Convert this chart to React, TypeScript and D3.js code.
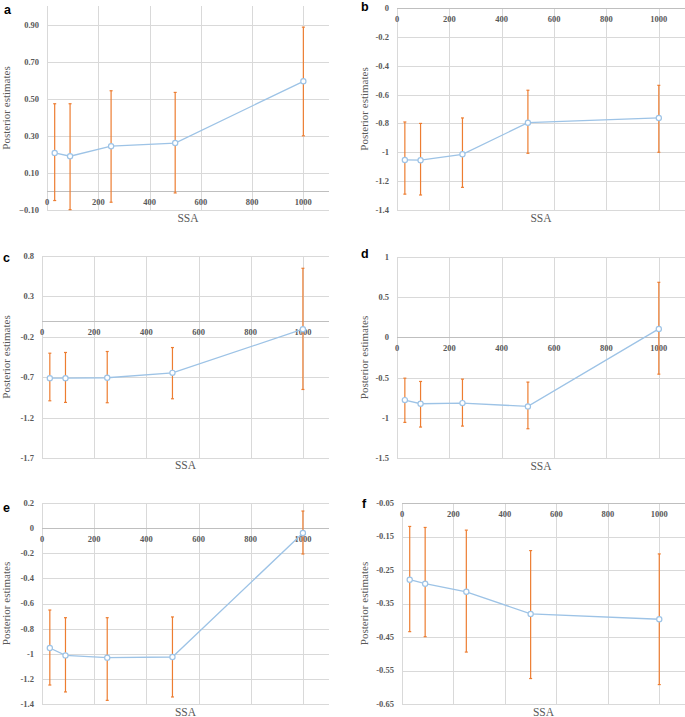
import React from 'react'
import * as d3 from 'd3'

// sample size (SSA) at which each estimate was made
const ssa = [30, 90, 250, 500, 1000]
const xTicks = [0, 200, 400, 600, 800, 1000]

// panel a
const estA = [0.208, 0.19, 0.244, 0.261, 0.594]
const upA = [0.473, 0.473, 0.543, 0.534, 0.886]
const loA = [-0.049, -0.098, -0.058, -0.008, 0.3]
const ticksA = [-0.1, 0.1, 0.3, 0.5, 0.7, 0.9]

// panel b
const estB = [-1.053, -1.055, -1.014, -0.795, -0.762]
const upB = [-0.79, -0.8, -0.762, -0.57, -0.536]
const loB = [-1.29, -1.296, -1.243, -1.007, -1.0]
const ticksB = [-1.4, -1.2, -1, -0.8, -0.6, -0.4, -0.2, 0]

// panel c
const estC = [-0.712, -0.712, -0.707, -0.646, -0.106]
const upC = [-0.403, -0.394, -0.382, -0.333, 0.648]
const loC = [-0.992, -1.012, -1.016, -0.967, -0.852]
const ticksC = [-1.7, -1.2, -0.7, -0.2, 0.3, 0.8]

// panel d
const estD = [-0.78, -0.825, -0.817, -0.858, 0.106]
const upD = [-0.507, -0.548, -0.519, -0.556, 0.685]
const loD = [-1.057, -1.115, -1.103, -1.136, -0.457]
const ticksD = [-1.5, -1, -0.5, 0, 0.5, 1]

// panel e
const estE = [-0.954, -1.013, -1.031, -1.026, -0.039]
const upE = [-0.652, -0.713, -0.713, -0.707, 0.136]
const loE = [-1.249, -1.304, -1.371, -1.344, -0.206]
const ticksE = [-1.4, -1.2, -1, -0.8, -0.6, -0.4, -0.2, 0, 0.2]

// panel f
const estF = [-0.279, -0.291, -0.315, -0.381, -0.397]
const upF = [-0.12, -0.123, -0.131, -0.192, -0.202]
const loF = [-0.434, -0.449, -0.495, -0.574, -0.592]
const ticksF = [-0.65, -0.55, -0.45, -0.35, -0.25, -0.15, -0.05]

const fmtGeneral = (v: number) => {
  const s = String(+v.toFixed(2))
  return s === '-0' ? '0' : s
}
const fmt2 = d3.format('.2f')

const panels = [
  { letter: 'a', est: estA, up: upA, lo: loA, ticks: ticksA, yDomain: [-0.1, 1.0], fmt: fmt2,
    box: { left: 47, right: 329, top: 6, bottom: 210 }, letterPos: [4, 14], yLabelX: 6, ssaY: 222 },
  { letter: 'b', est: estB, up: upB, lo: loB, ticks: ticksB, yDomain: [-1.4, 0], fmt: fmtGeneral,
    box: { left: 397, right: 685, top: 8, bottom: 210 }, letterPos: [361, 11], yLabelX: 364, ssaY: 222 },
  { letter: 'c', est: estC, up: upC, lo: loC, ticks: ticksC, yDomain: [-1.7, 0.8], fmt: fmtGeneral,
    box: { left: 42, right: 329, top: 256, bottom: 458 }, letterPos: [3, 262], yLabelX: 6, ssaY: 469 },
  { letter: 'd', est: estD, up: upD, lo: loD, ticks: ticksD, yDomain: [-1.5, 1], fmt: fmtGeneral,
    box: { left: 397, right: 685, top: 257, bottom: 458 }, letterPos: [361, 258], yLabelX: 364, ssaY: 470 },
  { letter: 'e', est: estE, up: upE, lo: loE, ticks: ticksE, yDomain: [-1.4, 0.2], fmt: fmtGeneral,
    box: { left: 42, right: 329, top: 503, bottom: 704 }, letterPos: [3, 512], yLabelX: 6, ssaY: 716 },
  { letter: 'f', est: estF, up: upF, lo: loF, ticks: ticksF, yDomain: [-0.65, -0.05], fmt: fmtGeneral,
    box: { left: 402, right: 685, top: 503, bottom: 704 }, letterPos: [362, 508], yLabelX: 364, ssaY: 716 },
]

const serif = "'Liberation Serif', 'Times New Roman', Times, serif"
const sans = "'Liberation Sans', Arial, Helvetica, sans-serif"
const gridColor = '#d9d9d9'
const textColor = '#595959'
const lineColor = '#9dc3e6'
const barColor = '#ed7d31'

const Panel = ({ p }: { p: (typeof panels)[number] }) => {
  const { left, right, top, bottom } = p.box
  const x = d3.scaleLinear().domain([0, 1100]).range([left, right])
  const y = d3.scaleLinear().domain(p.yDomain).range([bottom, top])
  const axisY = p.yDomain[1] <= 0 ? top : y(0)
  const pts = ssa.map((s, i) => [x(s), y(p.est[i])] as [number, number])
  const line = d3.line()(pts)

  return (
    <g>
      {p.ticks.map((t) => (
        <line key={'h' + t} x1={left} x2={right} y1={Math.round(y(t)) + 0.5} y2={Math.round(y(t)) + 0.5}
          stroke={gridColor} strokeWidth={1} />
      ))}
      {xTicks.map((t) => (
        <line key={'v' + t} x1={Math.round(x(t)) + 0.5} x2={Math.round(x(t)) + 0.5} y1={top} y2={bottom}
          stroke={gridColor} strokeWidth={1} />
      ))}
      <line x1={left} x2={right} y1={Math.round(axisY) + 0.5} y2={Math.round(axisY) + 0.5} stroke="#bfbfbf" strokeWidth={1} />

      {p.ticks.map((t) => (
        <text key={'yl' + t} x={left - 8} y={y(t)} dy="0.35em" textAnchor="end"
          style={{ fontFamily: serif }} fontWeight="bold" fontSize={8.5} fill={textColor}>
          {p.fmt(t)}
        </text>
      ))}
      {xTicks.map((t) => (
        <text key={'xl' + t} x={x(t)} y={axisY + 11} dy="0.35em" textAnchor="middle"
          style={{ fontFamily: serif }} fontWeight="bold" fontSize={8.5} fill={textColor}>
          {t}
        </text>
      ))}

      <path d={line ?? ''} fill="none" stroke={lineColor} strokeWidth={1.3} />

      {ssa.map((s, i) => (
        <g key={'e' + s} stroke={barColor} strokeWidth={1.2}>
          <line x1={x(s)} x2={x(s)} y1={y(p.up[i])} y2={y(p.lo[i])} />
          <line x1={x(s) - 1.5} x2={x(s) + 1.5} y1={y(p.up[i])} y2={y(p.up[i])} />
          <line x1={x(s) - 1.5} x2={x(s) + 1.5} y1={y(p.lo[i])} y2={y(p.lo[i])} />
        </g>
      ))}

      {pts.map(([cx, cy], i) => (
        <circle key={'m' + i} cx={cx} cy={cy} r={2.6} fill="#fff" stroke={lineColor} strokeWidth={1.2} />
      ))}

      <text x={p.yLabelX} y={(top + bottom) / 2} transform={`rotate(-90 ${p.yLabelX} ${(top + bottom) / 2})`}
        dy="0.35em" textAnchor="middle" style={{ fontFamily: serif }} fontSize={11} fill={textColor}>
        Posterior estimates
      </text>
      <text x={(left + right) / 2} y={p.ssaY} textAnchor="middle" style={{ fontFamily: serif }}
        fontSize={11.5} fill={textColor}>
        SSA
      </text>
      <text x={p.letterPos[0]} y={p.letterPos[1]} style={{ fontFamily: sans }} fontWeight="bold"
        fontSize={12.5} fill="#000">
        {p.letter}
      </text>
    </g>
  )
}

export default function App() {
  return (
    <svg width={685} height={717} style={{ position: 'absolute', left: 0, top: 0, background: '#fff' }}>
      {panels.map((p) => (
        <Panel key={p.letter} p={p} />
      ))}
    </svg>
  )
}
